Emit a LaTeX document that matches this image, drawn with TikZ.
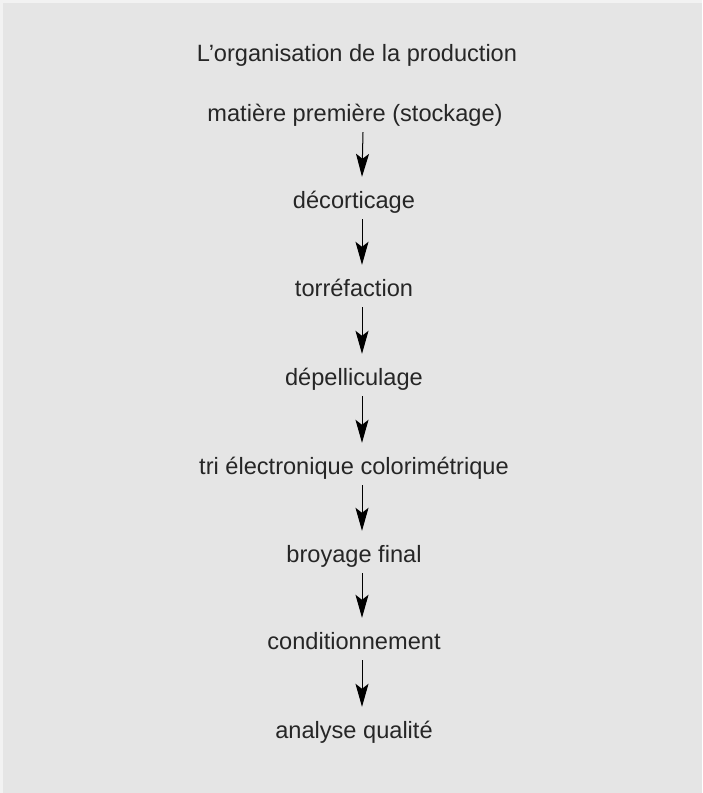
\documentclass[tikz,border=0pt]{standalone}
\usepackage{fontspec}
\setmainfont{Liberation Sans}
\usetikzlibrary{arrows.meta}
\definecolor{bg}{HTML}{E5E5E5}
\definecolor{edgecol}{HTML}{F2F2F2}
\definecolor{ink}{HTML}{262626}
\begin{document}
\begin{tikzpicture}[x=1pt,y=-1pt,
  stepnode/.style={inner sep=0pt, text height=31pt, text depth=11pt, anchor=base,
    font=\fontsize{23.6}{28}\selectfont, text=ink},
  flow/.style={-{Stealth[length=23pt,width=13pt,inset=5pt]}, line width=1pt, black}]
\useasboundingbox (0,0) rectangle (702,793);
\fill[edgecol] (0,0) rectangle (702,793);
\fill[bg] (3,3) rectangle (702,793);
\node[stepnode] (title) at (357,61) {L’organisation de la production};
\node[stepnode] (n1) at (355,121) {matière première (stockage)};
\node[stepnode] (n2) at (354,208) {décorticage};
\node[stepnode] (n3) at (354,296) {torréfaction};
\node[stepnode] (n4) at (354,385) {dépelliculage};
\node[stepnode] (n5) at (354,474) {tri électronique colorimétrique};
\node[stepnode] (n6) at (354,562) {broyage final};
\node[stepnode] (n7) at (354,649) {conditionnement};
\node[stepnode] (n8) at (354,738) {analyse qualité};
\foreach \a/\b in {n1/n2,n2/n3,n3/n4,n4/n5,n5/n6,n6/n7,n7/n8}
  \draw[flow] ([xshift=8pt]\a.south) -- ([xshift=8pt]\b.north);
\end{tikzpicture}
\end{document}
